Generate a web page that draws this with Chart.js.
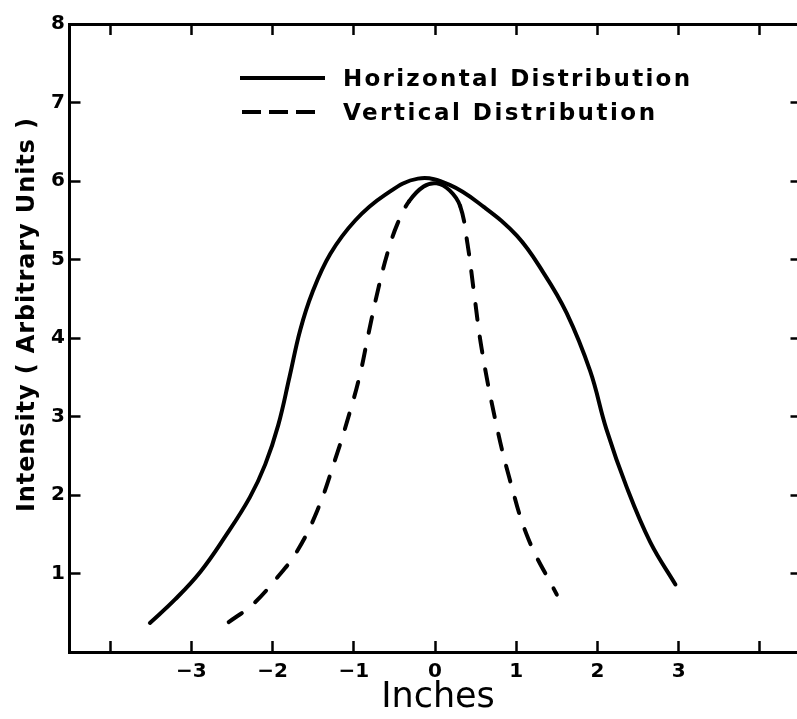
<!DOCTYPE html>
<html><head><meta charset="utf-8">
<script src="https://cdn.jsdelivr.net/npm/chart.js@4/dist/chart.umd.min.js"></script>
<style>html,body{margin:0;padding:0;overflow:hidden;background:#fff;width:797px;height:719px}canvas{display:block}</style>
</head><body>
<canvas id="c" width="801" height="719" style="width:801px;height:719px"></canvas>
<script>
// ---- data ----
const horizX = [-3.51,-3.20,-2.89,-2.59,-2.28,-2.09,-1.93,-1.79,-1.66,-1.51,-1.29,-0.98,-0.62,-0.21,0.18,0.60,1.01,1.33,1.62,1.91,2.11,2.36,2.65,2.96];
const horizY = [0.37,0.67,1.02,1.46,1.97,2.39,2.89,3.51,4.10,4.58,5.07,5.50,5.82,6.03,5.95,5.67,5.30,4.84,4.32,3.58,2.84,2.10,1.40,0.86];
const vertX = [-2.54,-2.24,-1.95,-1.70,-1.45,-1.23,-1.05,-0.92,-0.82,-0.70,-0.58,-0.46,-0.32,-0.14,0.02,0.18,0.31,0.40,0.48,0.575,0.74,0.92,1.15,1.50];
const vertY = [0.38,0.61,0.94,1.28,1.80,2.45,3.05,3.55,4.05,4.62,5.10,5.46,5.74,5.93,5.97,5.88,5.68,5.20,4.58,3.86,2.97,2.20,1.44,0.73];
const seriesLabels = ['Horizontal Distribution','Vertical Distribution'];
const xTickValues = [-4,-3,-2,-1,0,1,2,3,4];
const xLabelValues = [-3,-2,-1,0,1,2,3];
const yTickValues = [0,1,2,3,4,5,6,7,8];
const yLabelValues = [1,2,3,4,5,6,7,8];
const xTitle = 'Inches';
const yTitle = 'Intensity ( Arbitrary Units )';
const solidPeakRange = [-0.34, 0.32];
const dashPattern = [16,17];

const FONT = "'DejaVu Sans'";
Chart.defaults.font.family = FONT;
Chart.defaults.color = '#000';

function fmtX(v){ return v < 0 ? '\u2212' + Math.abs(v) : String(v); }

function spacedText(ctx, text, x, y, targetW, font, align){
  ctx.save();
  ctx.font = font;
  ctx.letterSpacing = '0px';
  const w = ctx.measureText(text).width;
  const sp = Math.max(0, (targetW - w) / (text.length - 1));
  ctx.letterSpacing = sp + 'px';
  const fw = w + sp * (text.length - 1);
  let sx = x;
  if (align === 'center') sx = x - fw / 2;
  ctx.textAlign = 'left';
  ctx.fillText(text, sx, y);
  ctx.restore();
}

const overlay = {
  id: 'overlay',
  afterDraw(chart){
    const ctx = chart.ctx;
    ctx.save();
    ctx.fillStyle = '#000';
    ctx.strokeStyle = '#000';
    // legend
    ctx.lineWidth = 4;
    ctx.lineCap = 'butt';
    ctx.beginPath(); ctx.moveTo(240, 78); ctx.lineTo(325, 78); ctx.stroke();
    ctx.setLineDash([19, 8]);
    ctx.beginPath(); ctx.moveTo(242, 112); ctx.lineTo(322, 112); ctx.stroke();
    ctx.setLineDash([]);
    ctx.textBaseline = 'alphabetic';
    spacedText(ctx, chart.data.datasets[0].label, 343, 86, 347, "bold 23px " + FONT, 'left');
    spacedText(ctx, chart.data.datasets[1].label, 343, 120, 312, "bold 23px " + FONT, 'left');
    // axis titles
    ctx.textBaseline = 'middle';
    spacedText(ctx, xTitle, 438, 698, 112, "35px " + FONT, 'center');
    ctx.save();
    ctx.translate(28, 315);
    ctx.rotate(-Math.PI/2);
    spacedText(ctx, yTitle, 0, 0, 394, "bold 24px " + FONT, 'center');
    ctx.restore();
    ctx.restore();
  }
};

const gridTicks = (len) => ({drawOnChartArea:false, drawTicks:true, tickLength:len, tickWidth:2.5, tickColor:'#000', color:'#000'});
const tickFont = {family: FONT, size: 20, weight: 'bold'};

new Chart(document.getElementById('c'), {
  type: 'line',
  data: {
    datasets: [
      {label: seriesLabels[0], data: horizX.map((x,i)=>({x, y: horizY[i]})),
       borderColor:'#000', borderWidth:4, pointRadius:0, tension:0.4,
       borderCapStyle:'round', borderJoinStyle:'round', fill:false},
      {label: seriesLabels[1], data: vertX.map((x,i)=>({x, y: vertY[i]})),
       borderColor:'#000', borderWidth:4, pointRadius:0, tension:0.4,
       borderCapStyle:'round', borderJoinStyle:'round', fill:false, borderDash:dashPattern,
       segment: {borderDash: c => (c.p0.parsed.x >= solidPeakRange[0] && c.p1.parsed.x <= solidPeakRange[1]) ? [] : dashPattern}}
    ]
  },
  options: {
    responsive: false,
    animation: false,
    events: [],
    layout: {padding: {left:0, right:0.5, top:9.5, bottom:0}},
    plugins: {legend:{display:false}, tooltip:{enabled:false}},
    scales: {
      x: {type:'linear', position:'bottom', min:-4.5, max:4.5,
          afterBuildTicks: s => { s.ticks = xTickValues.map(v=>({value:v})); },
          afterFit: s => { s.height = 67; },
          ticks: {callback: v => xLabelValues.includes(v) ? fmtX(v) : '', font: {...tickFont, lineHeight:1.2}, padding:19, maxRotation:0, autoSkip:false, color:'#000'},
          grid: gridTicks(-11), border:{display:true, width:3, color:'#000'}},
      xTop: {type:'linear', position:'top', min:-4.5, max:4.5,
          afterBuildTicks: s => { s.ticks = xTickValues.map(v=>({value:v})); },
          afterFit: s => { s.height = 0; },
          ticks: {display:false},
          grid: gridTicks(-11), border:{display:true, width:3, color:'#000'}},
      y: {type:'linear', position:'left', min:0, max:8,
          afterBuildTicks: s => { s.ticks = yTickValues.map(v=>({value:v})); },
          afterFit: s => { s.width = 69.5; },
          ticks: {callback: v => yLabelValues.includes(v) ? String(v) : '', font: {...tickFont, lineHeight:0.85}, padding:15.5, autoSkip:false, color:'#000'},
          grid: gridTicks(-11), border:{display:true, width:3, color:'#000'}},
      yRight: {type:'linear', position:'right', min:0, max:8,
          afterBuildTicks: s => { s.ticks = yTickValues.map(v=>({value:v})); },
          afterFit: s => { s.width = 0; },
          ticks: {display:false},
          grid: gridTicks(-10), border:{display:true, width:3, color:'#000'}}
    }
  },
  plugins: [overlay]
});
</script>
</body></html>
